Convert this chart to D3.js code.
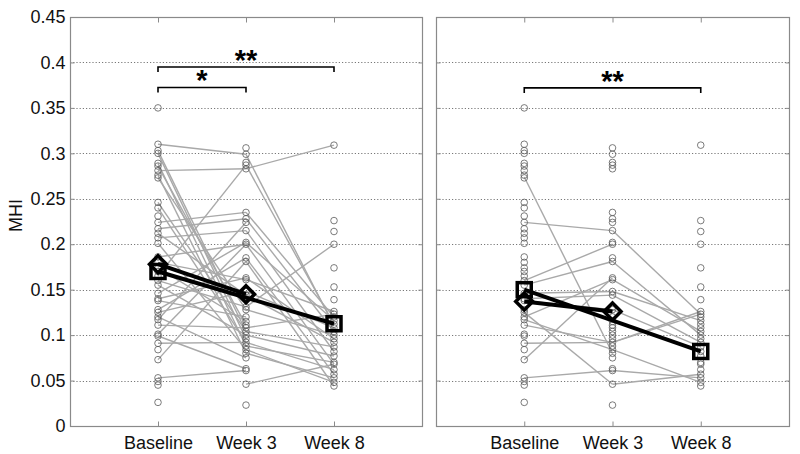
<!DOCTYPE html>
<html>
<head>
<meta charset="utf-8">
<script src="https://cdn.jsdelivr.net/npm/d3@7"></script>
<style>
  html, body { margin: 0; padding: 0; background: #fff; }
  svg { display: block; font-family: "Liberation Sans", Arial, Helvetica, sans-serif; }
</style>
</head>
<body>
<svg id="chart" width="800" height="454"></svg>
<script>
// ---------- data ----------
const categories = ["Baseline", "Week 3", "Week 8"];
const yTicks = [0, 0.05, 0.1, 0.15, 0.2, 0.25, 0.3, 0.35, 0.4, 0.45];
const yTickLabels = ["0", "0.05", "0.1", "0.15", "0.2", "0.25", "0.3", "0.35", "0.4", "0.45"];
const yLabel = "MHI";

// all measured values (circles, shown in both panels)
const baselineValues = [0.350, 0.310, 0.303, 0.300, 0.289, 0.286, 0.281, 0.276, 0.273, 0.246, 0.240, 0.231,
  0.224, 0.217, 0.212, 0.207, 0.201, 0.186, 0.180, 0.174, 0.170, 0.165, 0.160, 0.155, 0.146, 0.140, 0.138,
  0.128, 0.125, 0.120, 0.117, 0.111, 0.101, 0.099, 0.091, 0.084, 0.073, 0.053, 0.049, 0.045, 0.026];
const week3Values = [0.306, 0.299, 0.290, 0.287, 0.283, 0.235, 0.228, 0.224, 0.215, 0.202, 0.200, 0.185,
  0.181, 0.163, 0.161, 0.148, 0.144, 0.131, 0.128, 0.120, 0.115, 0.111, 0.108, 0.104, 0.100, 0.096, 0.092,
  0.088, 0.084, 0.080, 0.075, 0.063, 0.061, 0.046, 0.023];
const week8Values = [0.309, 0.226, 0.214, 0.200, 0.174, 0.153, 0.139, 0.126, 0.123, 0.120, 0.116, 0.112,
  0.108, 0.104, 0.100, 0.096, 0.092, 0.087, 0.082, 0.077, 0.070, 0.068, 0.062, 0.057, 0.053, 0.048, 0.044];

// per-subject trajectories (left panel)
const leftBaseline = [0.310, 0.281, 0.303, 0.300, 0.289, 0.286, 0.276, 0.273, 0.246, 0.240, 0.224, 0.217,
  0.212, 0.207, 0.201, 0.186, 0.180, 0.174, 0.165, 0.160, 0.155, 0.146, 0.140, 0.138, 0.128, 0.125, 0.120,
  0.117, 0.111, 0.101, 0.099, 0.091, 0.073, 0.053, null];
const leftWeek3 = [0.299, 0.283, 0.104, 0.096, 0.088, 0.111, 0.080, 0.128, 0.104, 0.092, 0.235, 0.228,
  0.144, 0.215, 0.084, 0.200, 0.161, 0.115, 0.287, 0.131, 0.100, 0.202, 0.163, 0.120, 0.185, 0.148, 0.075,
  0.224, 0.108, 0.200, 0.063, 0.092, 0.181, 0.061, 0.046];
const leftWeek8 = [0.110, 0.309, 0.087, null, 0.070, null, 0.053, 0.100, null, 0.062, 0.120, 0.104,
  0.092, 0.082, 0.048, 0.068, 0.126, null, 0.112, 0.200, 0.077, 0.116, 0.096, null, 0.057, 0.108, null,
  null, 0.123, null, null, null, 0.044, null, 0.068];

// per-subject trajectories (right panel)
const rightBaseline = [0.274, 0.224, 0.160, 0.155, 0.146, 0.140, 0.138, 0.125, 0.120, 0.111, 0.091, 0.073, 0.053, 0.117];
const rightWeek3 = [0.080, 0.215, 0.200, 0.181, 0.148, 0.144, 0.128, 0.046, 0.161, 0.092, 0.092, 0.163, 0.061, 0.084];
const rightWeek8 = [null, 0.123, null, 0.100, 0.116, 0.092, 0.087, 0.057, 0.104, 0.123, 0.126, null, 0.053, 0.048];

// group means
const leftDiamondMeans = [0.178, 0.145, null];
const leftSquareMeans = [0.170, null, 0.1125];
const rightDiamondMeans = [0.137, 0.126, null];
const rightSquareMeans = [0.150, null, 0.082];

// significance brackets
const leftBrackets = [
  { from: 0, to: 2, level: 0.395, label: "**" },
  { from: 0, to: 1, level: 0.3725, label: "*" }
];
const rightBrackets = [
  { from: 0, to: 2, level: 0.372, label: "**" }
];

// ---------- drawing ----------
const svg = d3.select("#chart");
const plotTop = 17, plotBottom = 426;
const y = d3.scaleLinear().domain([0, 0.45]).range([plotBottom, plotTop]);

const panels = [
  { x0: 70, x1: 422, b: leftBaseline, w3: leftWeek3, w8: leftWeek8,
    diamond: leftDiamondMeans, square: leftSquareMeans, brackets: leftBrackets, yLabels: true },
  { x0: 436, x1: 789, b: rightBaseline, w3: rightWeek3, w8: rightWeek8,
    diamond: rightDiamondMeans, square: rightSquareMeans, brackets: rightBrackets, yLabels: false }
];

const frameColor = "#8a8a8a";

panels.forEach(p => {
  const x = d3.scaleLinear().domain([0, 4]).range([p.x0, p.x1]);
  const xPos = i => x(i + 1);
  const g = svg.append("g");

  // grid (dotted)
  g.append("g").selectAll("line")
    .data(yTicks.filter(t => t > 0 && t < 0.45))
    .join("line")
    .attr("x1", p.x0).attr("x2", p.x1)
    .attr("y1", d => Math.round(y(d)) + 0.5).attr("y2", d => Math.round(y(d)) + 0.5)
    .attr("stroke", "#555").attr("stroke-width", 0.8)
    .attr("stroke-dasharray", "1.2,2");

  // subject lines
  const subjects = p.b.map((v, i) => [v, p.w3[i], p.w8[i]]);
  const segs = [];
  subjects.forEach(s => {
    for (let k = 0; k < 2; k++) {
      if (s[k] != null && s[k + 1] != null) segs.push({ a: k, va: s[k], b: k + 1, vb: s[k + 1] });
    }
    if (s[1] == null && s[0] != null && s[2] != null) segs.push({ a: 0, va: s[0], b: 2, vb: s[2] });
  });
  g.append("g").selectAll("line").data(segs).join("line")
    .attr("x1", d => xPos(d.a)).attr("y1", d => y(d.va))
    .attr("x2", d => xPos(d.b)).attr("y2", d => y(d.vb))
    .attr("stroke", "#a9a9a9").attr("stroke-width", 1.4);

  // circles
  const pts = [];
  [baselineValues, week3Values, week8Values].forEach((arr, k) => arr.forEach(v => pts.push({ k, v })));
  g.append("g").selectAll("circle").data(pts).join("circle")
    .attr("cx", d => xPos(d.k)).attr("cy", d => y(d.v)).attr("r", 3.3)
    .attr("fill", "none").attr("stroke", "#5a5a5a").attr("stroke-width", 0.8);

  // mean lines
  const meanLine = arr => arr.map((v, k) => ({ k, v })).filter(d => d.v != null);
  const lineGen = d3.line().x(d => xPos(d.k)).y(d => y(d.v));
  [p.square, p.diamond].forEach(arr => {
    g.append("path").datum(meanLine(arr)).attr("d", lineGen)
      .attr("fill", "none").attr("stroke", "#000").attr("stroke-width", 4)
      .attr("stroke-linejoin", "round");
  });
  // squares
  g.append("g").selectAll("rect").data(meanLine(p.square)).join("rect")
    .attr("x", d => xPos(d.k) - 7).attr("y", d => y(d.v) - 7)
    .attr("width", 14).attr("height", 14)
    .attr("fill", "none").attr("stroke", "#000").attr("stroke-width", 3.5);
  // diamonds
  g.append("g").selectAll("path").data(meanLine(p.diamond)).join("path")
    .attr("d", d => {
      const cx = xPos(d.k), cy = y(d.v), r = 8.5;
      return `M${cx},${cy - r}L${cx + r},${cy}L${cx},${cy + r}L${cx - r},${cy}Z`;
    })
    .attr("fill", "none").attr("stroke", "#000").attr("stroke-width", 3.5);

  // brackets
  p.brackets.forEach(bk => {
    const xa = xPos(bk.from), xb = xPos(bk.to), yy = y(bk.level);
    g.append("path")
      .attr("d", `M${xa},${yy + 5}L${xa},${yy}L${xb},${yy}L${xb},${yy + 5}`)
      .attr("fill", "none").attr("stroke", "#000").attr("stroke-width", 1.6);
    g.append("text").attr("x", (xa + xb) / 2).attr("y", yy + 3)
      .attr("text-anchor", "middle").attr("font-size", 29).attr("font-weight", "bold")
      .attr("fill", "#000").text(bk.label);
  });

  // frame
  g.append("rect").attr("x", p.x0 + 0.5).attr("y", plotTop + 0.5)
    .attr("width", p.x1 - p.x0).attr("height", plotBottom - plotTop)
    .attr("fill", "none").attr("stroke", frameColor).attr("stroke-width", 1.2);

  // x ticks (bottom & top)
  const xAxisB = d3.axisBottom(x).tickValues([1, 2, 3]).tickSize(-5)
    .tickFormat((d, i) => categories[i]).tickPadding(10);
  const ax = g.append("g").attr("transform", `translate(0,${plotBottom + 0.5})`).call(xAxisB);
  ax.select(".domain").remove();
  ax.selectAll(".tick line").attr("stroke", frameColor);
  ax.selectAll(".tick text").attr("font-size", 18).attr("fill", "#111")
    .attr("font-family", "Liberation Sans, Arial, sans-serif");
  const axT = g.append("g").attr("transform", `translate(0,${plotTop + 0.5})`)
    .call(d3.axisTop(x).tickValues([1, 2, 3]).tickSize(-5).tickFormat(""));
  axT.select(".domain").remove();
  axT.selectAll(".tick line").attr("stroke", frameColor);

  // y ticks (left & right)
  const ayL = g.append("g").attr("transform", `translate(${p.x0 + 0.5},0)`)
    .call(d3.axisLeft(y).tickValues(yTicks).tickSize(-4).tickPadding(5)
      .tickFormat((d, i) => p.yLabels ? yTickLabels[i] : ""));
  ayL.select(".domain").remove();
  ayL.selectAll(".tick line").attr("stroke", frameColor);
  ayL.selectAll(".tick text").attr("font-size", 18).attr("fill", "#111")
    .attr("font-family", "Liberation Sans, Arial, sans-serif");
  const ayR = g.append("g").attr("transform", `translate(${p.x1 + 0.5},0)`)
    .call(d3.axisRight(y).tickValues(yTicks).tickSize(-4).tickFormat(""));
  ayR.select(".domain").remove();
  ayR.selectAll(".tick line").attr("stroke", frameColor);
});

// y label
svg.append("text")
  .attr("transform", `translate(22,${(plotTop + plotBottom) / 2 - 6}) rotate(-90)`)
  .attr("text-anchor", "middle").attr("font-size", 18).attr("fill", "#111")
  .text(yLabel);
</script>
</body>
</html>
